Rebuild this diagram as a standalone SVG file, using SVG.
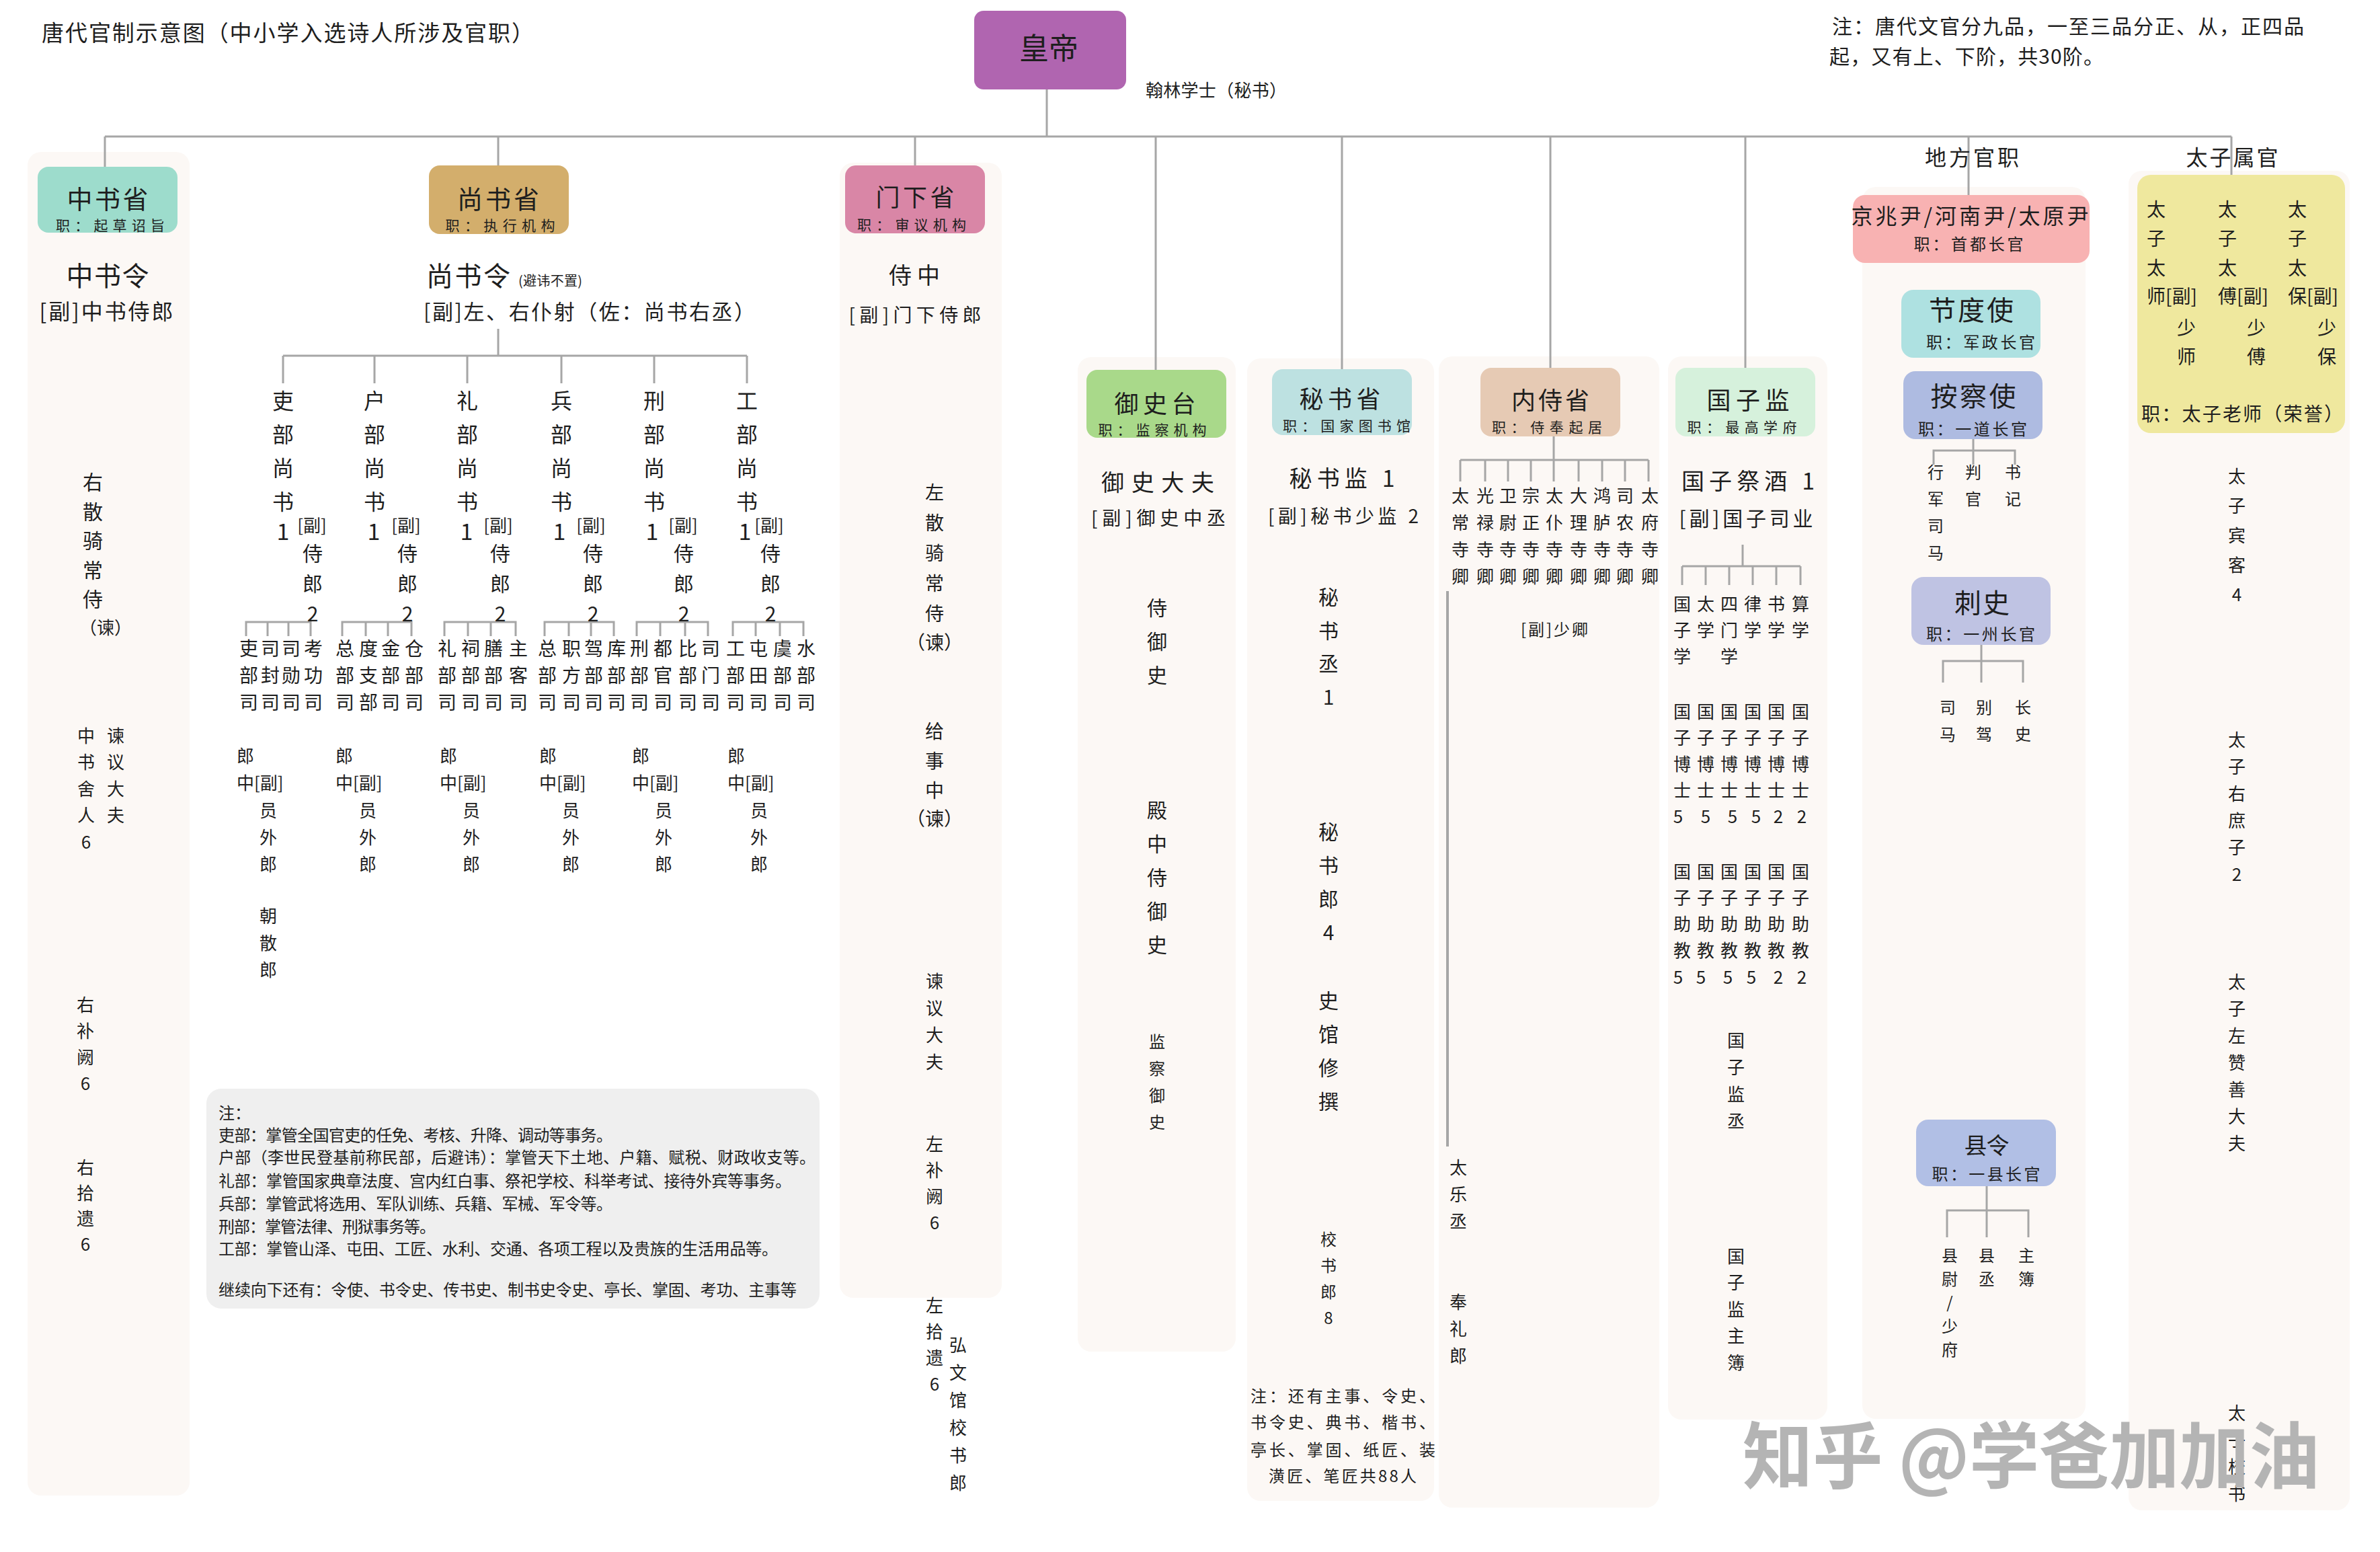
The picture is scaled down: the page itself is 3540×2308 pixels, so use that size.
<svg xmlns="http://www.w3.org/2000/svg" width="3540" height="2308" viewBox="0 0 3540 2308">
<style>
text{font-family:"Noto Sans CJK SC","Noto Sans",sans-serif;fill:#1e1e1e}
.m{text-anchor:middle}
.v{writing-mode:vertical-rl;text-orientation:upright}
.bg{fill:#fcf8f5}
.ln{stroke:#a6a6a6;stroke-width:3;fill:none}
.wm{font-family:"Noto Sans CJK SC",sans-serif;font-weight:bold;fill:#b4b4b4}
</style>
<rect width="3540" height="2308" fill="#ffffff"/>
<g id="columns">
<rect class="bg" x="41" y="226" width="241" height="1998" rx="20"/>
<rect class="bg" x="1249" y="242" width="241" height="1688" rx="20"/>
<rect class="bg" x="1603" y="531" width="235" height="1479" rx="20"/>
<rect class="bg" x="1855" y="533" width="278" height="1699" rx="20"/>
<rect class="bg" x="2140" y="530" width="328" height="1712" rx="20"/>
<rect class="bg" x="2481" y="530" width="237" height="1581" rx="20"/>
<rect class="bg" x="2770" y="278" width="332" height="1832" rx="20"/>
<rect class="bg" x="3166" y="254" width="329" height="1992" rx="20"/>
</g>
<g id="connectors" class="ln">
<path d="M1557 133V203 M156 203H3319 M156 203V248 M741 203V246 M1361 203V246 M1719 203V550 M1996 203V550 M2306 203V547 M2596 203V547 M2928 203V290 M3319 203V260"/>
<path d="M741 489V529 M421 529H1111 M421 529V570 M557 529V570 M695 529V570 M835 529V570 M973 529V570 M1111 529V570"/>
<path d="M366 946V925H462V946 M398 925V946 M429 925V946 M509 946V925H612V946 M544 925V946 M577 925V946 M661 946V925H767V946 M696 925V946 M730 925V946 M810 946V925H913V946 M846 925V946 M879 925V946 M947 946V925H1053V946 M982 925V946 M1019 925V946 M1090 946V925H1195V946 M1124 925V946 M1160 925V946"/>
<path d="M2311 649V716 M2172 684H2452 M2172 684V716 M2209 684V716 M2243 684V716 M2277 684V716 M2348 684V716 M2383 684V716 M2417 684V716 M2452 684V716"/>
<path d="M2153 879V1705" stroke-width="4"/>
<path d="M2592 810V842 M2502 842H2678 M2502 842V870 M2537 842V870 M2572 842V870 M2607 842V870 M2642 842V870 M2678 842V870"/>
<path d="M2935 653V691 M2876 691V670H2997V691"/>
<path d="M2947 959V1015 M2890 1015V983H3009V1015"/>
<path d="M2955 1764V1840 M2896 1840V1800H3017V1840"/>
</g>
<g id="title">
<text x="62" y="61" font-size="33" textLength="732" lengthAdjust="spacing">唐代官制示意图（中小学入选诗人所涉及官职）</text>
</g>
<g id="note-top">
<text x="2725" y="50" font-size="30" textLength="702" lengthAdjust="spacing">注：唐代文官分九品，一至三品分正、从，正四品</text>
<text x="2721" y="95" font-size="30" textLength="408" lengthAdjust="spacing">起，又有上、下阶，共30阶。</text>
</g>
<g id="huangdi">
<rect x="1449" y="16" width="226" height="117" rx="14" fill="#b065b0"/>
<text class="m" x="1560" y="88" font-size="44">皇帝</text>
<text x="1704" y="144" font-size="26" textLength="210" lengthAdjust="spacing">翰林学士（秘书）</text>
</g>
<g id="zhongshu">
<rect x="56" y="248" width="208" height="98" rx="16" fill="#9ddccc"/>
<text class="m" x="160" y="310" font-size="38" textLength="121" lengthAdjust="spacing">中书省</text>
<text class="m" x="164" y="343" font-size="21" textLength="162" lengthAdjust="spacing">职：起草诏旨</text>
<text class="m" x="160" y="425" font-size="40" textLength="123" lengthAdjust="spacing">中书令</text>
<text class="m" x="158" y="475" font-size="32" textLength="199" lengthAdjust="spacing">[副]中书侍郎</text>
<text class="v" x="138" y="702" font-size="30" letter-spacing="13.5">右散骑常侍</text>
<text class="m" x="157" y="943" font-size="26">（谏）</text>
<text class="v" x="128" y="1081" font-size="26" letter-spacing="13.5">中书舍人6</text>
<text class="v" x="172" y="1081" font-size="26" letter-spacing="13.5">谏议大夫</text>
<text class="v" x="127" y="1481" font-size="26" letter-spacing="13">右补阙6</text>
<text class="v" x="127" y="1723" font-size="26" letter-spacing="12">右拾遗6</text>
</g>
<g id="shangshu">
<rect x="638" y="246" width="208" height="102" rx="16" fill="#d3ae6c"/>
<text class="m" x="741" y="310" font-size="38" textLength="122" lengthAdjust="spacing">尚书省</text>
<text class="m" x="744" y="343" font-size="21" textLength="163" lengthAdjust="spacing">职：执行机构</text>
<text x="634" y="425" font-size="40" textLength="125" lengthAdjust="spacing">尚书令</text>
<text x="771" y="425" font-size="20" textLength="95" lengthAdjust="spacing">(避讳不置)</text>
<text x="630" y="475" font-size="31" textLength="493" lengthAdjust="spacing">[副]左、右仆射（佐：尚书右丞）</text>
</g>
<g id="liubu" font-size="32">
<text class="v" x="421" y="580" letter-spacing="18">吏部尚书</text>
<text class="v" x="557" y="580" letter-spacing="18">户部尚书</text>
<text class="v" x="695" y="580" letter-spacing="18">礼部尚书</text>
<text class="v" x="835" y="580" letter-spacing="18">兵部尚书</text>
<text class="v" x="973" y="580" letter-spacing="18">刑部尚书</text>
<text class="v" x="1111" y="580" letter-spacing="18">工部尚书</text>
<g font-size="34">
<text class="m" x="421" y="803">1</text><text class="m" x="556" y="803">1</text><text class="m" x="694" y="803">1</text><text class="m" x="832" y="803">1</text><text class="m" x="970" y="803">1</text><text class="m" x="1108" y="803">1</text>
</g>
<g font-size="26">
<text class="m" x="464" y="791">[副]</text><text class="m" x="604" y="791">[副]</text><text class="m" x="741" y="791">[副]</text><text class="m" x="879" y="791">[副]</text><text class="m" x="1016" y="791">[副]</text><text class="m" x="1144" y="791">[副]</text>
</g>
<g font-size="30">
<text class="v" x="465" y="808" letter-spacing="15">侍郎2</text>
<text class="v" x="606" y="808" letter-spacing="15">侍郎2</text>
<text class="v" x="744" y="808" letter-spacing="15">侍郎2</text>
<text class="v" x="882" y="808" letter-spacing="15">侍郎2</text>
<text class="v" x="1017" y="808" letter-spacing="15">侍郎2</text>
<text class="v" x="1146" y="808" letter-spacing="15">侍郎2</text>
</g>
</g>
<g id="bureaus" font-size="28" letter-spacing="12">
<text class="v" x="370" y="950">吏部司</text><text class="v" x="402" y="950">司封司</text><text class="v" x="433" y="950">司勋司</text><text class="v" x="466" y="950">考功司</text>
<text class="v" x="513" y="950">总部司</text><text class="v" x="548" y="950">度支部</text><text class="v" x="581" y="950">金部司</text><text class="v" x="616" y="950">仓部司</text>
<text class="v" x="665" y="950">礼部司</text><text class="v" x="700" y="950">祠部司</text><text class="v" x="734" y="950">膳部司</text><text class="v" x="771" y="950">主客司</text>
<text class="v" x="814" y="950">总部司</text><text class="v" x="850" y="950">职方司</text><text class="v" x="883" y="950">驾部司</text><text class="v" x="917" y="950">库部司</text>
<text class="v" x="951" y="950">刑部司</text><text class="v" x="986" y="950">都官司</text><text class="v" x="1023" y="950">比部司</text><text class="v" x="1057" y="950">司门司</text>
<text class="v" x="1094" y="950">工部司</text><text class="v" x="1128" y="950">屯田司</text><text class="v" x="1164" y="950">虞部司</text><text class="v" x="1199" y="950">水部司</text>
</g>
<g id="langzhong" font-size="26">
<text class="m" x="365" y="1134">郎</text><text x="352" y="1174">中[副]</text><text class="v" x="399" y="1192" letter-spacing="14">员外郎</text>
<text class="m" x="512" y="1134">郎</text><text x="499" y="1174">中[副]</text><text class="v" x="547" y="1192" letter-spacing="14">员外郎</text>
<text class="m" x="667" y="1134">郎</text><text x="654" y="1174">中[副]</text><text class="v" x="701" y="1192" letter-spacing="14">员外郎</text>
<text class="m" x="815" y="1134">郎</text><text x="802" y="1174">中[副]</text><text class="v" x="849" y="1192" letter-spacing="14">员外郎</text>
<text class="m" x="953" y="1134">郎</text><text x="940" y="1174">中[副]</text><text class="v" x="987" y="1192" letter-spacing="14">员外郎</text>
<text class="m" x="1095" y="1134">郎</text><text x="1082" y="1174">中[副]</text><text class="v" x="1129" y="1192" letter-spacing="14">员外郎</text>
<text class="v" x="399" y="1349" letter-spacing="14">朝散郎</text>
</g>
<g id="note-liubu" font-size="24">
<rect x="307" y="1619" width="912" height="327" rx="22" fill="#efefef"/>
<text x="325" y="1664">注：</text>
<text x="325" y="1697" textLength="586" lengthAdjust="spacing">吏部：掌管全国官吏的任免、考核、升降、调动等事务。</text>
<text x="325" y="1730" textLength="888" lengthAdjust="spacing">户部（李世民登基前称民部，后避讳）：掌管天下土地、户籍、赋税、财政收支等。</text>
<text x="325" y="1765" textLength="852" lengthAdjust="spacing">礼部：掌管国家典章法度、宫内红白事、祭祀学校、科举考试、接待外宾等事务。</text>
<text x="325" y="1799" textLength="586" lengthAdjust="spacing">兵部：掌管武将选用、军队训练、兵籍、军械、军令等。</text>
<text x="325" y="1833" textLength="323" lengthAdjust="spacing">刑部：掌管法律、刑狱事务等。</text>
<text x="325" y="1866" textLength="832" lengthAdjust="spacing">工部：掌管山泽、屯田、工匠、水利、交通、各项工程以及贵族的生活用品等。</text>
<text x="325" y="1927" textLength="860" lengthAdjust="spacing">继续向下还有：令使、书令史、传书史、制书史令史、亭长、掌固、考功、主事等</text>
</g>
<g id="menxia">
<rect x="1257" y="246" width="208" height="101" rx="16" fill="#d986a6"/>
<text class="m" x="1361" y="307" font-size="36" textLength="117" lengthAdjust="spacing">门下省</text>
<text class="m" x="1356" y="342" font-size="21" textLength="162" lengthAdjust="spacing">职：审议机构</text>
<text class="m" x="1360" y="422" font-size="34" textLength="76" lengthAdjust="spacing">侍中</text>
<text class="m" x="1361" y="479" font-size="28" textLength="197" lengthAdjust="spacing">[副]门下侍郎</text>
<text class="v" x="1390" y="718" font-size="28" letter-spacing="17">左散骑常侍</text>
<text class="m" x="1390" y="966" font-size="28">（谏）</text>
<text class="v" x="1390" y="1073" font-size="28" letter-spacing="16">给事中</text>
<text class="m" x="1390" y="1228" font-size="28">（谏）</text>
<text class="v" x="1390" y="1446" font-size="26" letter-spacing="14">谏议大夫</text>
<text class="v" x="1390" y="1688" font-size="26" letter-spacing="13">左补阙6</text>
<text class="v" x="1390" y="1928" font-size="26" letter-spacing="13">左拾遗6</text>
<text class="v" x="1425" y="1987" font-size="26" letter-spacing="15">弘文馆校书郎</text>
</g>
<g id="yushitai">
<rect x="1616" y="550" width="208" height="101" rx="16" fill="#a9d98a"/>
<text class="m" x="1718" y="614" font-size="36" textLength="121" lengthAdjust="spacing">御史台</text>
<text class="m" x="1714" y="647" font-size="21" textLength="161" lengthAdjust="spacing">职：监察机构</text>
<text class="m" x="1722" y="730" font-size="34" textLength="168" lengthAdjust="spacing">御史大夫</text>
<text class="m" x="1723" y="781" font-size="28" textLength="200" lengthAdjust="spacing">[副]御史中丞</text>
<text class="v" x="1721" y="889" font-size="30" letter-spacing="20">侍御史</text>
<text class="v" x="1721" y="1190" font-size="30" letter-spacing="20">殿中侍御史</text>
<text class="v" x="1721" y="1537" font-size="24" letter-spacing="16">监察御史</text>
</g>
<g id="mishusheng">
<rect x="1892" y="549" width="208" height="98" rx="16" fill="#bde1e1"/>
<text class="m" x="1993" y="607" font-size="36" textLength="121" lengthAdjust="spacing">秘书省</text>
<text class="m" x="2003" y="641" font-size="21" textLength="190" lengthAdjust="spacing">职：国家图书馆</text>
<text class="m" x="1996" y="724" font-size="34" textLength="157" lengthAdjust="spacing">秘书监 1</text>
<text class="m" x="1998" y="778" font-size="28" textLength="224" lengthAdjust="spacing">[副]秘书少监 2</text>
<text class="v" x="1976" y="873" font-size="30" letter-spacing="19.5">秘书丞1</text>
<text class="v" x="1976" y="1222" font-size="30" letter-spacing="20">秘书郎4</text>
<text class="v" x="1976" y="1473" font-size="30" letter-spacing="20">史馆修撰</text>
<text class="v" x="1976" y="1831" font-size="24" letter-spacing="15">校书郎8</text>
<text x="1860" y="2085" font-size="24" textLength="275" lengthAdjust="spacing">注：还有主事、令史、</text>
<text x="1860" y="2124" font-size="24" textLength="275" lengthAdjust="spacing">书令史、典书、楷书、</text>
<text x="1860" y="2165" font-size="24" textLength="275" lengthAdjust="spacing">亭长、掌固、纸匠、装</text>
<text class="m" x="1997" y="2204" font-size="24" textLength="220" lengthAdjust="spacing">潢匠、笔匠共88人</text>
</g>
<g id="neishisheng">
<rect x="2202" y="547" width="208" height="102" rx="16" fill="#e6cab4"/>
<text class="m" x="2306" y="609" font-size="36" textLength="116" lengthAdjust="spacing">内侍省</text>
<text class="m" x="2301" y="643" font-size="21" textLength="164" lengthAdjust="spacing">职：侍奉起居</text>
<g font-size="26" letter-spacing="14">
<text class="v" x="2172" y="724">太常寺卿</text><text class="v" x="2209" y="724">光禄寺卿</text><text class="v" x="2243" y="724">卫尉寺卿</text>
<text class="v" x="2277" y="724">宗正寺卿</text><text class="v" x="2312" y="724">太仆寺卿</text><text class="v" x="2348" y="724">大理寺卿</text>
<text class="v" x="2383" y="724">鸿胪寺卿</text><text class="v" x="2417" y="724">司农寺卿</text><text class="v" x="2454" y="724">太府寺卿</text>
<text class="v" x="2169" y="1723">太乐丞</text>
<text class="v" x="2169" y="1923">奉礼郎</text>
</g>
<text class="m" x="2312" y="945" font-size="24" textLength="100" lengthAdjust="spacing">[副]少卿</text>
</g>
<g id="guozijian">
<rect x="2492" y="547" width="208" height="102" rx="16" fill="#d6f1dc"/>
<text class="m" x="2600" y="609" font-size="36" textLength="123" lengthAdjust="spacing">国子监</text>
<text class="m" x="2591" y="643" font-size="21" textLength="163" lengthAdjust="spacing">职：最高学府</text>
<text class="m" x="2600" y="728" font-size="34" textLength="198" lengthAdjust="spacing">国子祭酒 1</text>
<text class="m" x="2597" y="782" font-size="30" textLength="199" lengthAdjust="spacing">[副]国子司业</text>
<g font-size="26" letter-spacing="13">
<text class="v" x="2502" y="885">国子学</text><text class="v" x="2537" y="885">太学</text><text class="v" x="2572" y="885">四门学</text>
<text class="v" x="2607" y="885">律学</text><text class="v" x="2642" y="885">书学</text><text class="v" x="2678" y="885">算学</text>
<text class="v" x="2502" y="1045">国子博士</text><text class="v" x="2537" y="1045">国子博士</text><text class="v" x="2572" y="1045">国子博士</text>
<text class="v" x="2607" y="1045">国子博士</text><text class="v" x="2642" y="1045">国子博士</text><text class="v" x="2678" y="1045">国子博士</text>
<text class="v" x="2502" y="1283">国子助教</text><text class="v" x="2537" y="1283">国子助教</text><text class="v" x="2572" y="1283">国子助教</text>
<text class="v" x="2607" y="1283">国子助教</text><text class="v" x="2642" y="1283">国子助教</text><text class="v" x="2678" y="1283">国子助教</text>
<text class="v" x="2582" y="1534" letter-spacing="14">国子监丞</text>
<text class="v" x="2582" y="1855" letter-spacing="13.5">国子监主簿</text>
</g>
<g font-size="26">
<text class="m" x="2496" y="1224">5</text><text class="m" x="2537" y="1224">5</text><text class="m" x="2577" y="1224">5</text><text class="m" x="2612" y="1224">5</text><text class="m" x="2645" y="1224">2</text><text class="m" x="2680" y="1224">2</text>
<text class="m" x="2496" y="1463">5</text><text class="m" x="2530" y="1463">5</text><text class="m" x="2570" y="1463">5</text><text class="m" x="2605" y="1463">5</text><text class="m" x="2645" y="1463">2</text><text class="m" x="2680" y="1463">2</text>
</g>
</g>
<g id="difang">
<text class="m" x="2933" y="246" font-size="32" textLength="140" lengthAdjust="spacing">地方官职</text>
<rect x="2756" y="290" width="352" height="101" rx="18" fill="#f8b2b2"/>
<text class="m" x="2930" y="333" font-size="32" textLength="353" lengthAdjust="spacing">京兆尹/河南尹/太原尹</text>
<text class="m" x="2928" y="372" font-size="24" textLength="163" lengthAdjust="spacing">职：首都长官</text>
</g>
<g id="jiedushi">
<rect x="2828" y="431" width="207" height="101" rx="18" fill="#aee1e1"/>
<text class="m" x="2932" y="476" font-size="40" textLength="126" lengthAdjust="spacing">节度使</text>
<text class="m" x="2946" y="518" font-size="24" textLength="162" lengthAdjust="spacing">职：军政长官</text>
</g>
<g id="anchashi">
<rect x="2831" y="552" width="207" height="101" rx="18" fill="#aebbe1"/>
<text class="m" x="2935" y="604" font-size="40" textLength="127" lengthAdjust="spacing">按察使</text>
<text class="m" x="2934" y="647" font-size="24" textLength="162" lengthAdjust="spacing">职：一道长官</text>
<g font-size="24" letter-spacing="16">
<text class="v" x="2879" y="690">行军司马</text>
<text class="v" x="2935" y="690">判官</text>
<text class="v" x="2994" y="690">书记</text>
</g>
</g>
<g id="cishi">
<rect x="2843" y="858" width="207" height="101" rx="18" fill="#bfc3e3"/>
<text class="m" x="2948" y="911" font-size="40" textLength="82" lengthAdjust="spacing">刺史</text>
<text class="m" x="2946" y="952" font-size="24" textLength="162" lengthAdjust="spacing">职：一州长官</text>
<g font-size="24" letter-spacing="16">
<text class="v" x="2897" y="1040">司马</text>
<text class="v" x="2951" y="1040">别驾</text>
<text class="v" x="3009" y="1040">长史</text>
</g>
</g>
<g id="xianling">
<rect x="2850" y="1665" width="208" height="99" rx="18" fill="#b1bfe5"/>
<text class="m" x="2955" y="1716" font-size="34" textLength="67" lengthAdjust="spacing">县令</text>
<text class="m" x="2954" y="1755" font-size="24" textLength="161" lengthAdjust="spacing">职：一县长官</text>
<g font-size="24" letter-spacing="11">
<text class="v" x="2900" y="1855">县尉/少府</text>
<text class="v" x="2955" y="1855">县丞</text>
<text class="v" x="3014" y="1855">主簿</text>
</g>
</g>
<g id="taizi">
<text class="m" x="3320" y="246" font-size="32" textLength="137" lengthAdjust="spacing">太子属官</text>
<rect x="3179" y="260" width="309" height="384" rx="20" fill="#efe89e"/>
<g font-size="28">
<text class="v" x="3207" y="297" letter-spacing="15.5">太子太</text>
<text class="v" x="3313" y="297" letter-spacing="15.5">太子太</text>
<text class="v" x="3417" y="297" letter-spacing="15.5">太子太</text>
<text x="3193" y="451">师[副]</text>
<text x="3299" y="451">傅[副]</text>
<text x="3403" y="451">保[副]</text>
<text class="v" x="3252" y="473" letter-spacing="15">少师</text>
<text class="v" x="3356" y="473" letter-spacing="15">少傅</text>
<text class="v" x="3461" y="473" letter-spacing="15">少保</text>
<text x="3185" y="626" textLength="300" lengthAdjust="spacing">职：太子老师（荣誉）</text>
</g>
<g font-size="26">
<text class="v" x="3327" y="695" letter-spacing="18">太子宾客4</text>
<text class="v" x="3327" y="1087" letter-spacing="14">太子右庶子2</text>
<text class="v" x="3327" y="1447" letter-spacing="14">太子左赞善大夫</text>
<text class="v" x="3327" y="2088" letter-spacing="14">太子校书</text>
</g>
</g>
<g id="watermark">
<text class="wm" x="2592" y="2205" font-size="108" textLength="858" lengthAdjust="spacingAndGlyphs">知乎 @学爸加加油</text>
</g>
</svg>
